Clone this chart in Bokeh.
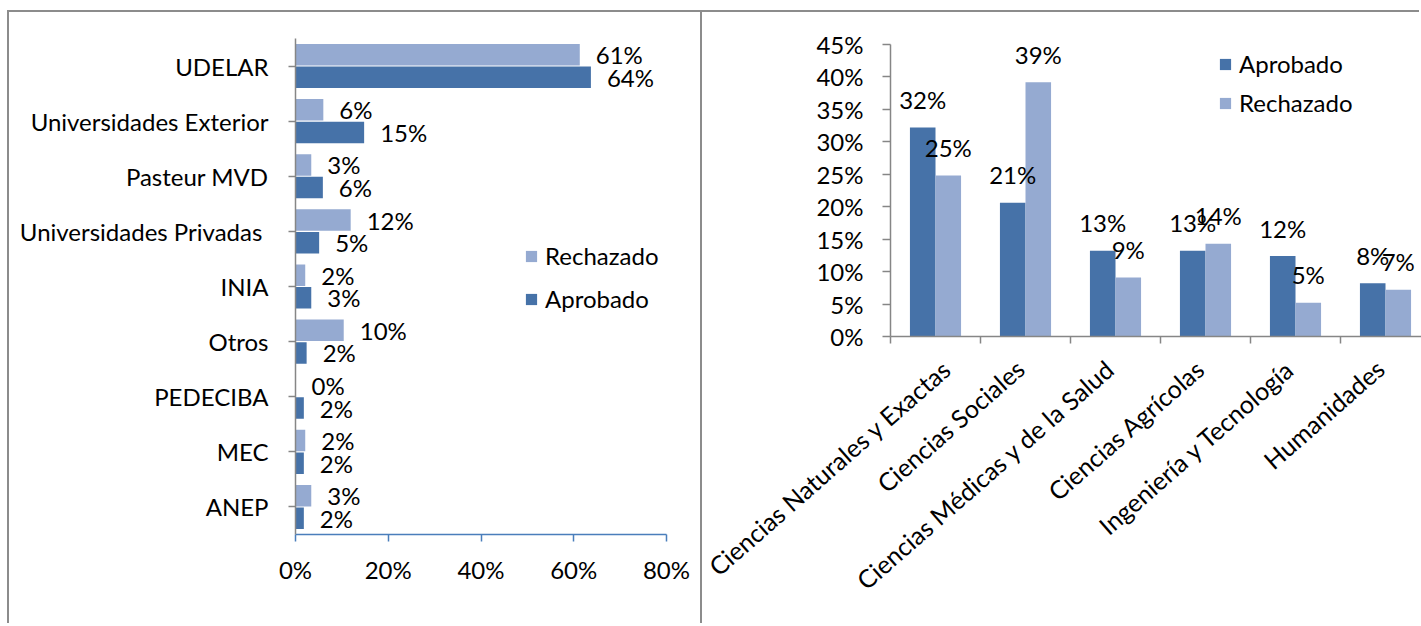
import numpy as np
from bokeh.plotting import figure
from bokeh.models import (ColumnDataSource, FactorRange, Range1d, NumeralTickFormatter,
                          FixedTicker, LabelSet, Legend, LegendItem, CustomJSTickFormatter)
from bokeh.core.properties import value
from bokeh.transform import dodge
from bokeh.layouts import row
from bokeh.embed import file_html
from bokeh.resources import INLINE

FONT = "Lato"
FS = "24px"
DARK = "#4672A8"
LIGHT = "#95AAD1"
FRAME = "#8C8C8C"

# ---------------- data: left chart (institutions) ----------------
inst = ["UDELAR", "Universidades Exterior", "Pasteur MVD", "Universidades Privadas ",
        "INIA", "Otros", "PEDECIBA", "MEC", "ANEP"]
inst_aprobado = [0.637, 0.148, 0.059, 0.051, 0.034, 0.024, 0.018, 0.018, 0.018]
inst_rechazado = [0.613, 0.060, 0.034, 0.119, 0.021, 0.104, 0.0, 0.021, 0.034]
pct_ticks_left = [0, 0.2, 0.4, 0.6, 0.8]

# ---------------- data: right chart (areas) ----------------
areas = ["Ciencias Naturales y Exactas", "Ciencias Sociales", "Ciencias Médicas y de la Salud",
         "Ciencias Agrícolas", "Ingeniería y Tecnología", "Humanidades"]
area_aprobado = [0.322, 0.206, 0.132, 0.132, 0.124, 0.082]
area_rechazado = [0.248, 0.392, 0.091, 0.143, 0.052, 0.072]
pct_ticks_right = [0, 0.05, 0.10, 0.15, 0.20, 0.25, 0.30, 0.35, 0.40, 0.45]


def pct(v):
    return f"{round(v * 100)}%"


def style_axis(ax):
    ax.major_label_text_font = FONT
    ax.major_label_text_font_size = FS
    ax.major_label_text_color = "black"
    ax.minor_tick_line_color = None
    ax.major_tick_in = 0


FRAME_STYLE = {"box-shadow": f"-2px -2px 0 0 {FRAME}"}

# ================= LEFT FIGURE =================
src1 = ColumnDataSource(dict(
    inst=inst, apr=inst_aprobado, rej=inst_rechazado,
    apr_lbl=[pct(v) for v in inst_aprobado], rej_lbl=[pct(v) for v in inst_rechazado]))

p1 = figure(y_range=FactorRange(factors=inst[::-1]), x_range=Range1d(0, 0.8),
            width=693, height=613, output_backend="svg", toolbar_location=None,
            min_border_left=286, min_border_right=36, min_border_top=26, min_border_bottom=91)
p1.frame_align = False
p1.margin = (12, 0, 0, 9)
p1.outline_line_color = None
p1.xgrid.grid_line_color = None
p1.ygrid.grid_line_color = None
p1.styles = FRAME_STYLE

r_rej1 = p1.hbar(y=dodge("inst", 0.205, range=p1.y_range), left=0, right="rej", height=0.39,
                 source=src1, fill_color=LIGHT, line_color=None)
r_apr1 = p1.hbar(y=dodge("inst", -0.205, range=p1.y_range), left=0, right="apr", height=0.39,
                 source=src1, fill_color=DARK, line_color=None)

for col, off in (("rej", 0.205), ("apr", -0.205)):
    p1.add_layout(LabelSet(x=col, y=dodge("inst", off, range=p1.y_range), text=col + "_lbl",
                           source=src1, x_offset=16, y_offset=0, text_align="left",
                           text_baseline="middle", text_font=value(FONT), text_font_size=FS,
                           text_color="black"))

style_axis(p1.xaxis[0])
p1.xaxis.ticker = FixedTicker(ticks=pct_ticks_left)
p1.xaxis.formatter = NumeralTickFormatter(format="0%")
p1.xaxis.axis_line_color = "#4A7EBB"
p1.xaxis.axis_line_width = 1.5
p1.xaxis.major_tick_line_color = "#4A7EBB"
p1.xaxis.major_tick_line_width = 1.5
p1.xaxis.major_tick_out = 7
p1.xaxis.major_label_standoff = 13

style_axis(p1.yaxis[0])
p1.yaxis.axis_line_color = "#868686"
p1.yaxis.axis_line_width = 1.5
p1.yaxis.major_tick_line_color = "#868686"
p1.yaxis.major_tick_line_width = 1.5
p1.yaxis.major_tick_out = 7
p1.yaxis.major_label_standoff = 20

leg1 = Legend(items=[LegendItem(label="Rechazado", renderers=[r_rej1]),
                     LegendItem(label="Aprobado", renderers=[r_apr1])],
              location=(229, 221), glyph_width=14, glyph_height=14, label_height=14,
              label_standoff=7, spacing=14, padding=0, margin=0,
              border_line_color=None, background_fill_alpha=0,
              label_text_font=FONT, label_text_font_size=FS, label_text_color="black")
p1.add_layout(leg1)

# ================= RIGHT FIGURE =================
xc = np.arange(len(areas)) + 0.5
src2 = ColumnDataSource(dict(
    xc=xc, apr=area_aprobado, rej=area_rechazado,
    apr_lbl=[pct(v) for v in area_aprobado], rej_lbl=[pct(v) for v in area_rechazado]))

p2 = figure(x_range=Range1d(0, 5.9), y_range=Range1d(0, 0.45),
            width=719, height=613, output_backend="svg", toolbar_location=None,
            min_border_left=188, min_border_right=0, min_border_top=32, min_border_bottom=289)
p2.frame_align = False
p2.margin = (12, 0, 0, 0)
p2.outline_line_color = None
p2.xgrid.grid_line_color = None
p2.ygrid.grid_line_color = None
p2.styles = FRAME_STYLE

r_apr2 = p2.vbar(x=dodge("xc", -0.142), top="apr", bottom=0, width=0.284, source=src2,
                 fill_color=DARK, line_color=None)
r_rej2 = p2.vbar(x=dodge("xc", 0.142), top="rej", bottom=0, width=0.284, source=src2,
                 fill_color=LIGHT, line_color=None)

for col, off in (("apr", -0.142), ("rej", 0.142)):
    p2.add_layout(LabelSet(x=dodge("xc", off), y=col, text=col + "_lbl", source=src2,
                           y_offset=28, text_align="center", text_baseline="middle",
                           text_font=value(FONT), text_font_size=FS, text_color="black"))

style_axis(p2.yaxis[0])
p2.yaxis.ticker = FixedTicker(ticks=pct_ticks_right)
p2.yaxis.formatter = NumeralTickFormatter(format="0%")
p2.yaxis.axis_line_color = "#868686"
p2.yaxis.axis_line_width = 1.5
p2.yaxis.major_tick_line_color = "#868686"
p2.yaxis.major_tick_line_width = 1.5
p2.yaxis.major_tick_out = 8
p2.yaxis.major_label_standoff = 19

style_axis(p2.xaxis[0])
p2.xaxis.major_label_text_font_size = "25px"
p2.xaxis.ticker = FixedTicker(ticks=list(xc - 0.06), minor_ticks=list(range(len(areas) + 1)))
p2.xaxis.formatter = CustomJSTickFormatter(args=dict(names=areas),
                                           code="return names[Math.round(tick - 0.5)] || '';")
p2.xaxis.axis_line_color = "#868686"
p2.xaxis.axis_line_width = 1.5
p2.xaxis.major_tick_out = 0
p2.xaxis.minor_tick_line_color = "#868686"
p2.xaxis.minor_tick_line_width = 1.5
p2.xaxis.minor_tick_out = 7
p2.xaxis.minor_tick_in = 0
p2.xaxis.major_label_orientation = 0.72
p2.xaxis.major_label_standoff = 21

leg2 = Legend(items=[LegendItem(label="Aprobado", renderers=[r_apr2]),
                     LegendItem(label="Rechazado", renderers=[r_rej2])],
              location=(328, 219), glyph_width=14, glyph_height=14, label_height=14,
              label_standoff=7, spacing=10, padding=0, margin=0,
              border_line_color=None, background_fill_alpha=0,
              label_text_font=FONT, label_text_font_size=FS, label_text_color="black")
p2.add_layout(leg2)

layout = row(p1, p2)
open("out.html", "w").write(file_html(layout, INLINE))
